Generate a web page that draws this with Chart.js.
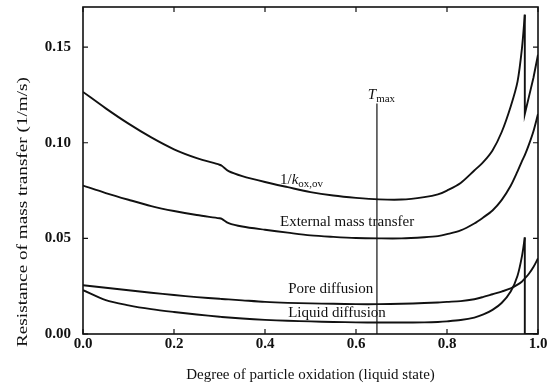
<!DOCTYPE html>
<html>
<head>
<meta charset="utf-8">
<script src="https://cdn.jsdelivr.net/npm/chart.js@4.4.0/dist/chart.umd.min.js"></script>
<style>
html,body{margin:0;padding:0;background:#fff;}
canvas{display:block;}
</style>
</head>
<body>
<canvas id="c" width="547" height="384"></canvas>
<script>
// ---- data ----
const xGrid = [0, 0.05, 0.1, 0.15, 0.2, 0.25, 0.3, 0.305, 0.32, 0.35, 0.4, 0.45, 0.5, 0.55, 0.6, 0.65, 0.7, 0.75, 0.78, 0.8, 0.83, 0.86, 0.88, 0.9, 0.92, 0.94, 0.955, 0.965, 0.971];

// 1/k_ox,ov : smooth part up to the peak, then the drop and the tail
const overallY = [0.1266, 0.1180, 0.1100, 0.1028, 0.0966, 0.0920, 0.0885, 0.0880, 0.0852, 0.0826, 0.0795, 0.0768, 0.0742, 0.0724, 0.0712, 0.0704, 0.0703, 0.0716, 0.0730, 0.0750, 0.0790, 0.0855, 0.0900, 0.0960, 0.1055, 0.1190, 0.1320, 0.1500, 0.1670];
const overallTailX = [0.971, 0.971, 0.98, 0.99, 1.0];
const overallTailY = [0.1670, 0.1150, 0.1240, 0.1340, 0.1460];

const externalX = xGrid.concat([0.98, 0.99, 1.0]);
const externalY = [0.0776, 0.0737, 0.0702, 0.0669, 0.0643, 0.0622, 0.0605, 0.0602, 0.0580, 0.0562, 0.0545, 0.0530, 0.0516, 0.0508, 0.0502, 0.0500, 0.0500, 0.0506, 0.0512, 0.0522, 0.0542, 0.0578, 0.0610, 0.0646, 0.0700, 0.0775, 0.0850, 0.0905, 0.0935,
                   0.0990, 0.1060, 0.1150];

const poreX = xGrid.concat([0.98, 0.99, 1.0]);
const poreY = [0.0255, 0.0242, 0.0229, 0.0216, 0.0204, 0.0193, 0.0184, 0.0183, 0.0181, 0.0176, 0.0168, 0.0163, 0.0160, 0.0158, 0.0156, 0.0156, 0.0158, 0.0162, 0.0165, 0.0168, 0.0172, 0.0182, 0.0194, 0.0208, 0.0222, 0.0238, 0.0258, 0.0275, 0.0290,
               0.0315, 0.0350, 0.0395];

// liquid diffusion : smooth part up to the peak, then the drop to zero
const liquidY = [0.0229, 0.0177, 0.0150, 0.0130, 0.0115, 0.0102, 0.0090, 0.0089, 0.0086, 0.0081, 0.0074, 0.0069, 0.0066, 0.0063, 0.0061, 0.0060, 0.0060, 0.0061, 0.0063, 0.0066, 0.0073, 0.0086, 0.0102, 0.0126, 0.0162, 0.0222, 0.0305, 0.0410, 0.0505];
const liquidTailX = [0.971, 0.971, 1.0];
const liquidTailY = [0.0505, 0.0, 0.0];

const tmaxX = [0.646, 0.646];
const tmaxY = [0.0, 0.1205];

const xTickValues = [0, 0.2, 0.4, 0.6, 0.8, 1.0];
const xTickLabels = ['0.0', '0.2', '0.4', '0.6', '0.8', '1.0'];
const yTickValues = [0, 0.05, 0.10, 0.15];
const yTickLabels = ['0.00', '0.05', '0.10', '0.15'];

const xTitle = 'Degree of particle oxidation (liquid state)';
const yTitle = 'Resistance of mass transfer (1/m/s)';

// curve annotations (anchored in data coordinates)
const curveLabels = [
  {x: 0.433, y: 0.0786, parts: [{t: '1/', s: 15}, {t: 'k', s: 15, i: true}, {t: 'ox,ov', s: 11, dy: 3}]},
  {x: 0.433, y: 0.0563, parts: [{t: 'External mass transfer', s: 15}]},
  {x: 0.451, y: 0.0214, parts: [{t: 'Pore diffusion', s: 15}]},
  {x: 0.451, y: 0.0089, parts: [{t: 'Liquid diffusion', s: 15}]},
  {x: 0.626, y: 0.1229, parts: [{t: 'T', s: 15, i: true}, {t: 'max', s: 11, dy: 3}]}
];

const FONT = "'Liberation Serif', 'Times New Roman', serif";
const INK = '#111';

function pts(xs, ys) { return xs.map((x, i) => ({x: x, y: ys[i]})); }

const frameTicks = {
  id: 'frameTicks',
  afterDatasetsDraw(chart) {
    const {ctx, chartArea: a, scales} = chart;
    const sx = scales.x, sy = scales.y;
    ctx.save();
    ctx.strokeStyle = INK;
    ctx.lineWidth = 1.6;
    ctx.strokeRect(a.left, a.top, a.right - a.left, a.bottom - a.top);
    ctx.lineWidth = 1.2;
    const L = 5;
    ctx.beginPath();
    sx.ticks.forEach(t => {
      const p = sx.getPixelForValue(t.value);
      ctx.moveTo(p, a.bottom); ctx.lineTo(p, a.bottom - L);
      ctx.moveTo(p, a.top); ctx.lineTo(p, a.top + L);
    });
    sy.ticks.forEach(t => {
      const p = sy.getPixelForValue(t.value);
      ctx.moveTo(a.left, p); ctx.lineTo(a.left + L, p);
      ctx.moveTo(a.right, p); ctx.lineTo(a.right - L, p);
    });
    ctx.stroke();
    ctx.restore();
  }
};

const textLayer = {
  id: 'textLayer',
  afterDraw(chart) {
    const {ctx, scales} = chart;
    const sx = scales.x, sy = scales.y;
    ctx.save();
    ctx.fillStyle = INK;
    ctx.textBaseline = 'alphabetic';
    ctx.textAlign = 'left';
    curveLabels.forEach(lab => {
      let px = sx.getPixelForValue(lab.x);
      const py = sy.getPixelForValue(lab.y);
      lab.parts.forEach(p => {
        ctx.font = (p.i ? 'italic ' : '') + p.s + 'px ' + FONT;
        ctx.fillText(p.t, px, py + (p.dy || 0));
        px += ctx.measureText(p.t).width;
      });
    });
    // y-axis title
    ctx.font = '15px ' + FONT;
    ctx.textAlign = 'center';
    ctx.textBaseline = 'middle';
    ctx.translate(23, 212);
    ctx.rotate(-Math.PI / 2);
    const w = ctx.measureText(yTitle).width;
    ctx.scale(270 / w, 1);
    ctx.fillText(yTitle, 0, 0);
    ctx.restore();
  }
};

const common = {
  showLine: true, borderColor: INK, backgroundColor: INK,
  borderWidth: 1.9, pointRadius: 0, tension: 0.3, fill: false
};

new Chart(document.getElementById('c'), {
  type: 'scatter',
  data: {
    datasets: [
      {label: '1/k_ox,ov', data: pts(xGrid, overallY)},
      {label: '1/k_ox,ov (after drop)', data: pts(overallTailX, overallTailY), tension: 0},
      {label: 'External mass transfer', data: pts(externalX, externalY)},
      {label: 'Pore diffusion', data: pts(poreX, poreY)},
      {label: 'Liquid diffusion', data: pts(xGrid, liquidY)},
      {label: 'Liquid diffusion (after drop)', data: pts(liquidTailX, liquidTailY), tension: 0},
      {label: 'T_max', data: pts(tmaxX, tmaxY), borderWidth: 1.2, tension: 0}
    ].map(d => Object.assign({}, common, d))
  },
  options: {
    responsive: false,
    animation: false,
    devicePixelRatio: 1,
    events: [],
    layout: {padding: {left: 0, right: 9, top: 7, bottom: 0}},
    plugins: {legend: {display: false}, tooltip: {enabled: false}},
    scales: {
      x: {
        type: 'linear', min: 0, max: 1,
        grid: {display: false, drawTicks: false},
        border: {display: false},
        afterBuildTicks: s => { s.ticks = xTickValues.map(v => ({value: v})); },
        afterFit: s => { s.height = 50; s.paddingLeft = 0; s.paddingRight = 0; },
        ticks: {
          autoSkip: false, maxRotation: 0, padding: 1, color: INK,
          font: {family: FONT, size: 15, weight: 'bold'},
          callback: (v, i) => xTickLabels[i]
        },
        title: {display: true, text: xTitle, color: INK, padding: {top: 0, bottom: 0},
                font: {family: FONT, size: 15}}
      },
      y: {
        type: 'linear', min: 0, max: 0.171,
        grid: {display: false, drawTicks: false},
        border: {display: false},
        afterBuildTicks: s => { s.ticks = yTickValues.map(v => ({value: v})); },
        afterFit: s => { s.width = 83; s.paddingTop = 0; s.paddingBottom = 0; },
        ticks: {
          autoSkip: false, padding: 12, color: INK,
          font: {family: FONT, size: 15, weight: 'bold'},
          callback: (v, i) => yTickLabels[i]
        }
      }
    }
  },
  plugins: [frameTicks, textLayer]
});
</script>
</body>
</html>
